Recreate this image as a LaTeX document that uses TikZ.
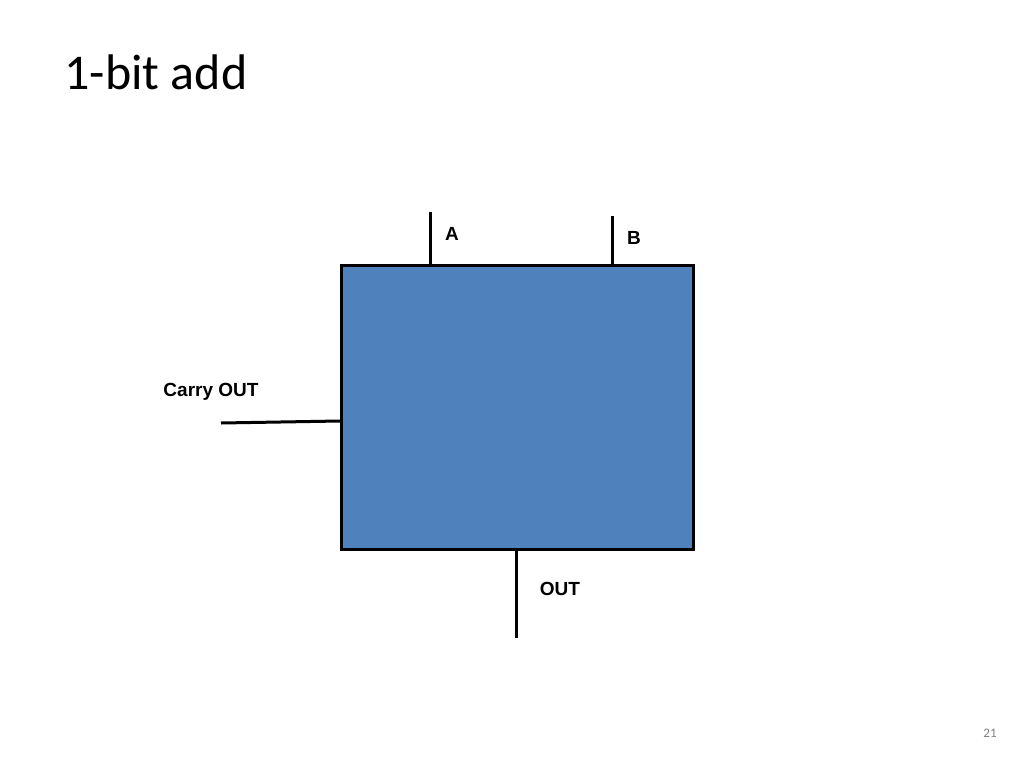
\documentclass[tikz,border=0pt]{standalone}
\usepackage{fontspec}
\setmainfont{Carlito}
\newfontfamily\lab{Liberation Sans}
\definecolor{boxblue}{HTML}{4F81BD}
\begin{document}
\begin{tikzpicture}[x=1pt,y=-1pt,
  wire/.style={line width=3pt},
  lbl/.style={font=\lab\bfseries\fontsize{19}{22}\selectfont}]
\useasboundingbox (0,0) rectangle (1024,768);
\node[anchor=west,font=\fontsize{50}{58}\selectfont] (title) at (61,72) {1-bit add};
\node[draw,line width=3pt,fill=boxblue,minimum width=352pt,minimum height=284pt,anchor=north west,inner sep=0pt] (box) at (340,264) {};
\coordinate (a) at (430,212);
\coordinate (b) at (612,216);
\coordinate (c) at (221,423);
\coordinate (o) at (516,638);
\draw[wire] (a) -- (a |- box.north);
\draw[wire] (b) -- (b |- box.north);
\draw[wire] (c) -- (box.west |- 0,421);
\draw[wire] (o) -- (o |- box.south);
\node[lbl] (la) at (452,234) {A};
\node[lbl] (lb) at (634,238) {B};
\node[lbl] (lc) at (211,392) {Carry OUT};
\node[lbl] (lo) at (560,589) {OUT};
\node[font=\fontsize{13}{15}\selectfont,text=gray] (pg) at (990,733) {21};
\end{tikzpicture}
\end{document}
